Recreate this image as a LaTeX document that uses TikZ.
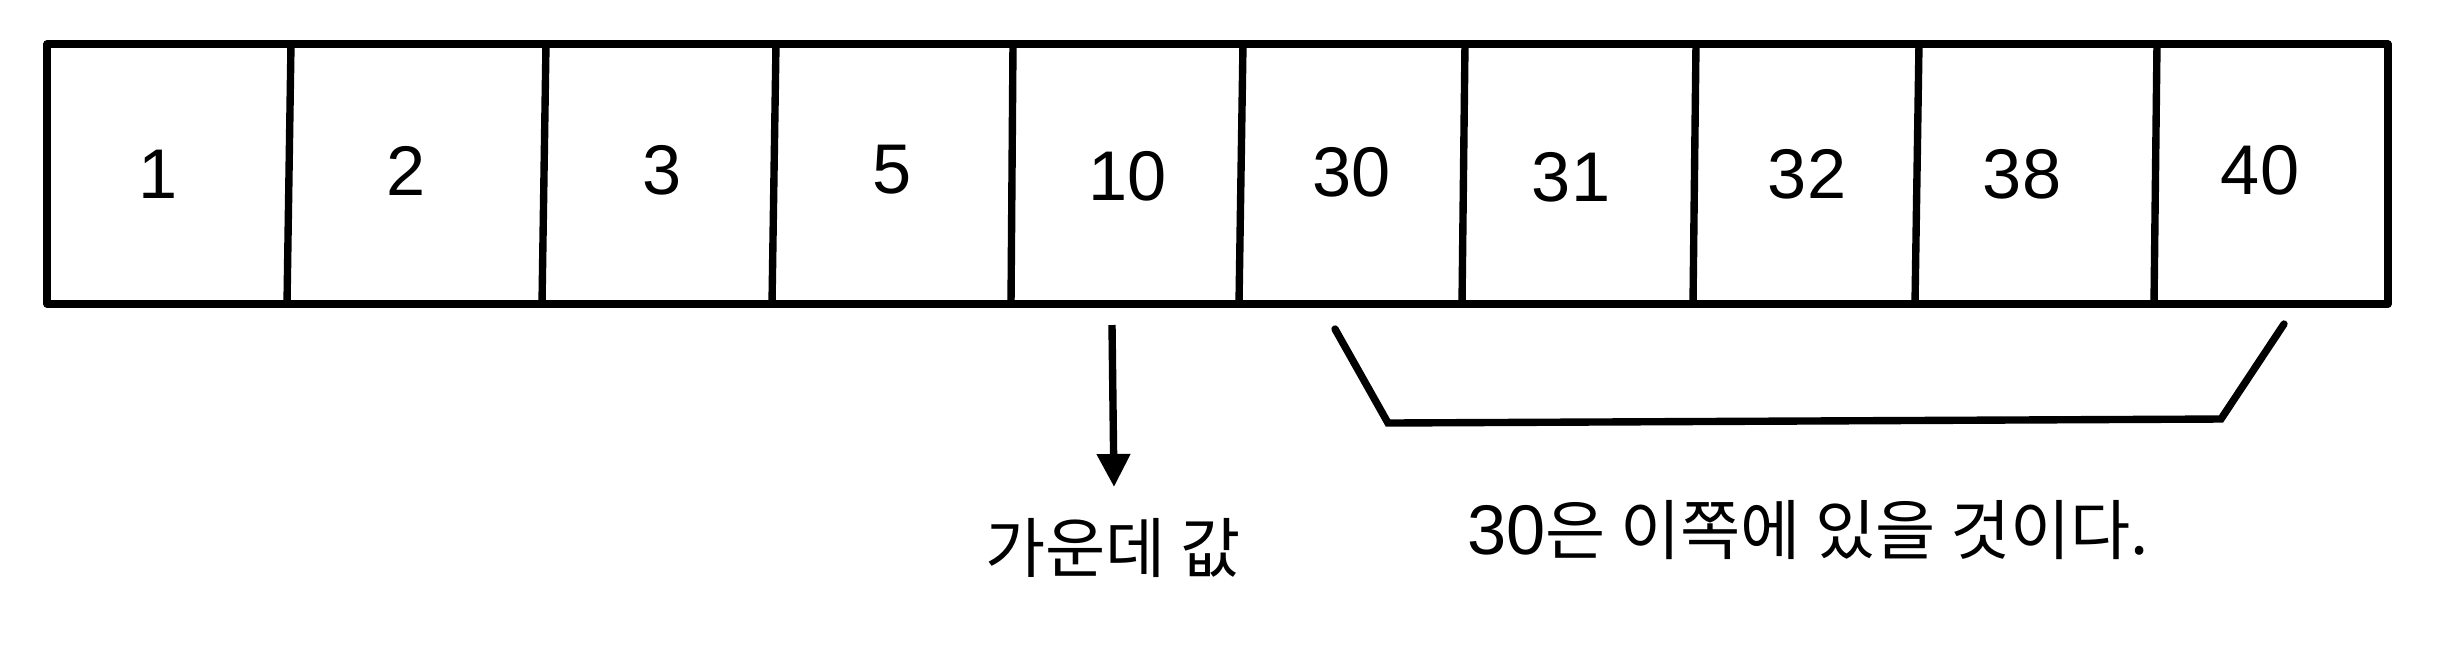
\documentclass[tikz,border=0pt]{standalone}
\usepackage{fontspec}
\setmainfont{Liberation Sans}
\newfontfamily\kr{Noto Sans CJK KR}
\usetikzlibrary{arrows.meta}
\begin{document}
\begin{tikzpicture}[x=0.01cm,y=-0.01cm,
  stroke/.style={line width=2.1pt,line join=round,line cap=round},
  num/.style={font=\fontsize{20}{24}\selectfont,inner sep=0pt},
  lbl/.style={font=\fontsize{18.6}{22}\selectfont,inner sep=0pt}]
\useasboundingbox (0,0) rectangle (2444,650);
% outer box
\draw[stroke] (47,44) rectangle (2388,304);
% dividers
\foreach \t/\b in {291/287, 546/542, 776/772, 1013/1011, 1243/1239, 1465/1462, 1696/1693, 1919/1915, 2157/2154}
  \draw[stroke] (\t,44) -- (\b,304);
% numbers
\node[num] (n1) at (158,174) {1};
\node[num] (n2) at (406,171) {2};
\node[num] (n3) at (662,170) {3};
\node[num] (n5) at (892,170) {5};
\node[num] (n10) at (1128,176) {10};
\node[num] (n30) at (1352,172) {30};
\node[num] (n31) at (1571,177) {31};
\node[num] (n32) at (1807,174) {32};
\node[num] (n38) at (2022,174) {38};
\node[num] (n40) at (2260,170) {40};
% middle arrow
\coordinate (m1) at (1112,325);
\coordinate (m2) at (1114,487);
\draw[stroke,line cap=butt,-{Triangle[width=0.32cm,length=0.33cm]}] (m1) -- (m2);
\node[lbl] (mid) at (1113,548) {\kr 가운데 값};
% bracket
\coordinate (b1) at (1335,329);
\coordinate (b2) at (1388,423);
\coordinate (b3) at (2221,419);
\coordinate (b4) at (2284,324);
\draw[stroke,line join=miter] (b1) -- (b2) -- (b3) -- (b4);
\node[lbl] (here) at (1808,530) {\fontsize{20}{24}\selectfont 30\fontsize{18.6}{22}\selectfont\kr 은 이쪽에 있을 것이다.};
\end{tikzpicture}
\end{document}
